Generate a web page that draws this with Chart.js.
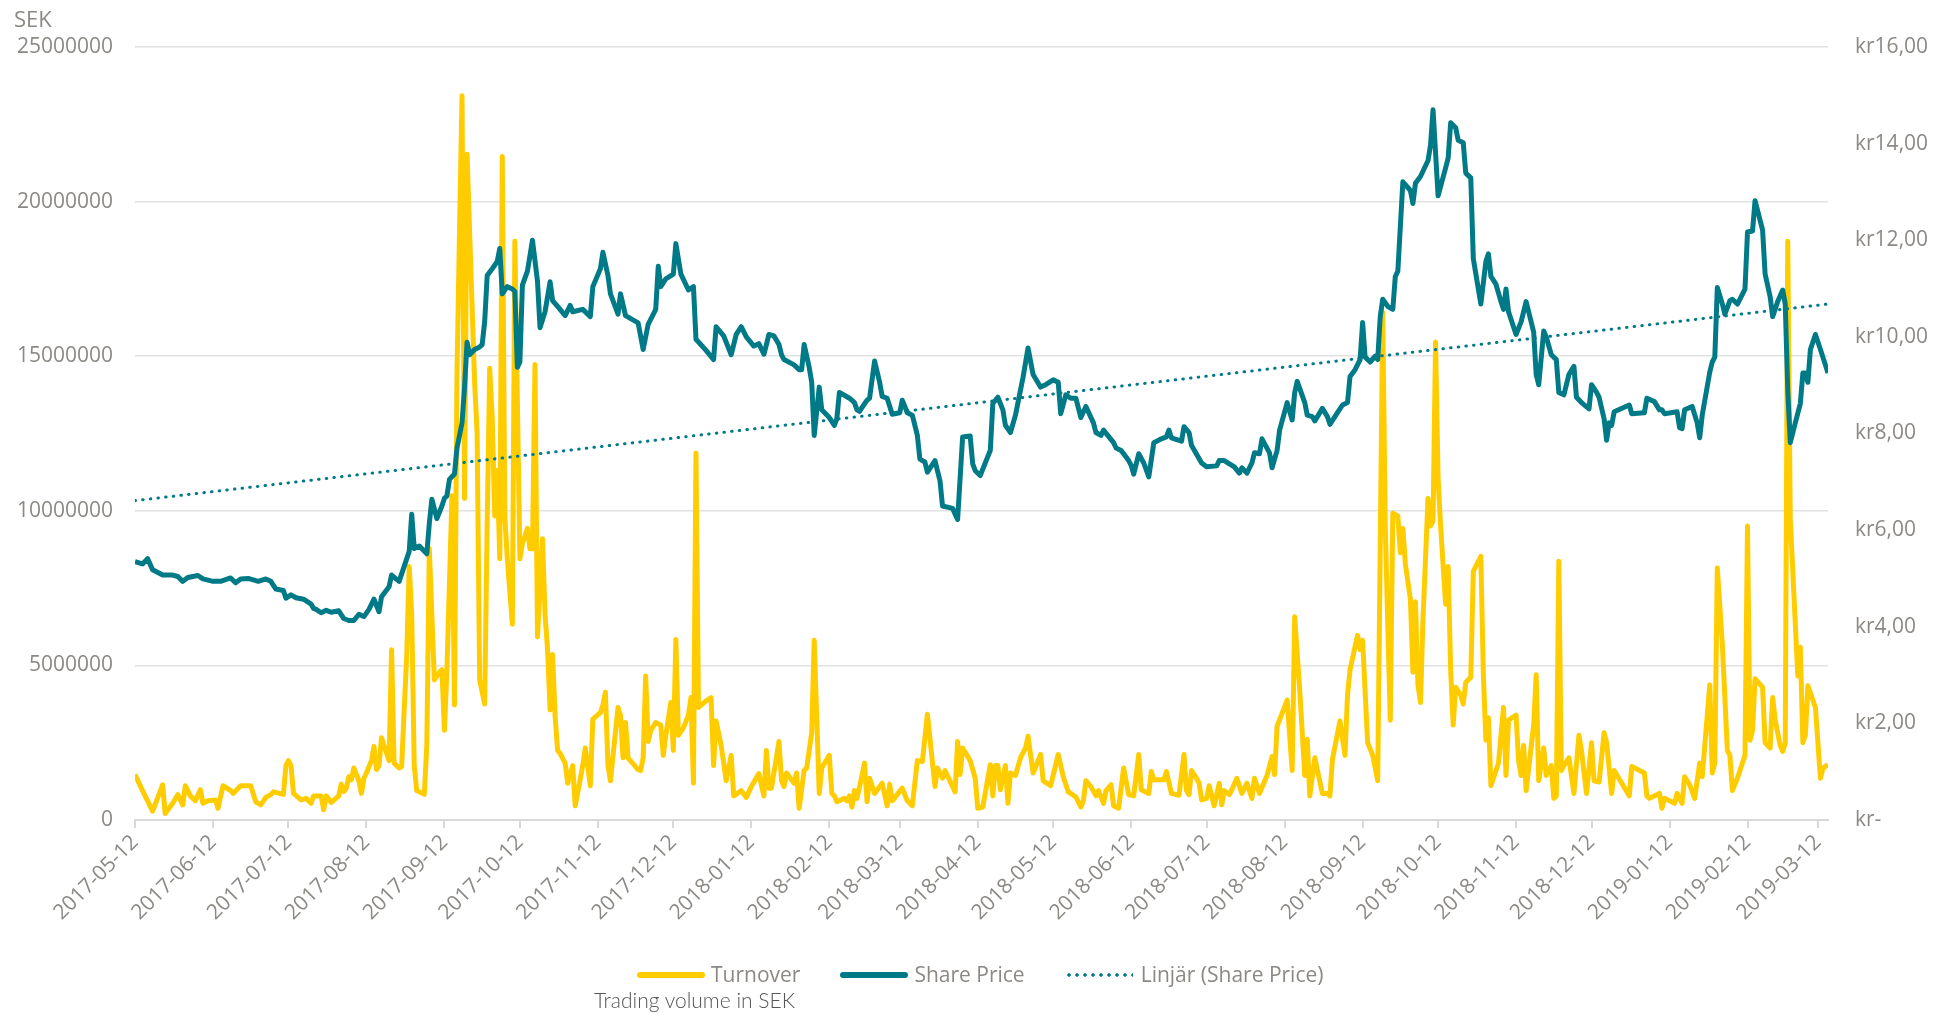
<!DOCTYPE html>
<html>
<head>
<meta charset="utf-8">
<title>Turnover and Share Price</title>
<script src="https://cdn.jsdelivr.net/npm/chart.js@4.4.1/dist/chart.umd.min.js"></script>
<style>
  html, body { margin: 0; padding: 0; background: #fff; }
  #wrap { position: relative; width: 1939px; height: 1013px; }
  #unit { position: absolute; left: 14px; top: 3px; font: 22px 'Open Sans', sans-serif; color: #8c8985; }
  #legend { position: absolute; left: 637px; top: 960px; display: flex; align-items: center;
            font: 21px 'Open Sans', sans-serif; line-height: 29px; color: #8c8985; }
  .item { display: flex; align-items: center; margin-right: 40px; }
  .swatch { width: 68px; height: 6px; border-radius: 3px; margin-right: 6px; }
  .dots { width: 68px; height: 4px; margin-right: 8px;
          background-image: radial-gradient(circle, #007a87 1.5px, transparent 1.8px);
          background-size: 8px 4px; }
  #note { position: absolute; left: 594px; top: 987px; font: 300 21px Lato, sans-serif; color: #555; }
</style>
</head>
<body>
<div id="wrap">
  <canvas id="chart" width="1939" height="1013"></canvas>
  <div id="unit">SEK</div>
  <div id="legend">
    <div class="item"><span class="swatch" style="background:#ffcc00"></span>Turnover</div>
    <div class="item"><span class="swatch" style="background:#007a87"></span>Share Price</div>
    <div class="item"><span class="dots"></span>Linjär (Share Price)</div>
  </div>
  <div id="note">Trading volume in SEK</div>
</div>
<script>
// --- Data (x = trading days after startDate) ---
const startDate = '2017-05-12';

const tickDates = ['2017-05-12', '2017-06-12', '2017-07-12', '2017-08-12', '2017-09-12', '2017-10-12',
  '2017-11-12', '2017-12-12', '2018-01-12', '2018-02-12', '2018-03-12', '2018-04-12', '2018-05-12',
  '2018-06-12', '2018-07-12', '2018-08-12', '2018-09-12', '2018-10-12', '2018-11-12', '2018-12-12',
  '2019-01-12', '2019-02-12', '2019-03-12'];

const turnoverTicks = [0, 5000000, 10000000, 15000000, 20000000, 25000000];
const priceTicks = [0, 2, 4, 6, 8, 10, 12, 14, 16];

const turnoverDays = [
  0, 3, 7, 11, 12, 15, 17, 19, 20, 22,
  24, 26, 27, 29, 32, 33, 35, 38, 39, 42,
  46, 48, 50, 52, 54, 55, 59, 60, 61, 62,
  63, 66, 68, 70, 71, 74, 75, 76, 78, 81,
  82, 83, 84, 85, 86, 87, 89, 90, 91, 92,
  94, 95, 96, 97, 98, 99, 101, 102, 103, 105,
  106, 107, 108, 109, 110, 111, 112, 115, 116, 117,
  119, 121, 122, 123, 124, 126, 127, 128, 129, 130,
  131, 132, 134, 135, 136, 137, 139, 140, 141, 142,
  143, 144, 145, 146, 147, 148, 150, 151, 153, 154,
  156, 157, 158, 159, 160, 162, 163, 164, 165, 166,
  167, 168, 169, 171, 172, 174, 175, 178, 179, 181,
  182, 185, 186, 187, 188, 189, 192, 193, 194, 195,
  196, 200, 201, 202, 203, 204, 205, 207, 209, 210,
  211, 213, 214, 215, 216, 218, 220, 221, 222, 223,
  224, 227, 229, 230, 231, 233, 235, 237, 238, 241,
  243, 245, 248, 250, 251, 252, 253, 256, 257, 258,
  259, 262, 263, 264, 266, 267, 269, 270, 272, 273,
  276, 277, 278, 279, 282, 283, 284, 285, 286, 287,
  289, 290, 291, 292, 294, 297, 299, 300, 301, 305,
  307, 309, 311, 313, 314, 315, 318, 319, 321, 322,
  326, 327, 328, 329, 332, 334, 335, 337, 340, 341,
  342, 343, 344, 346, 347, 348, 350, 352, 354, 355,
  357, 360, 361, 364, 367, 369, 371, 374, 376, 377,
  378, 380, 382, 383, 385, 386, 388, 389, 391, 393,
  395, 397, 399, 400, 403, 404, 405, 409, 410, 412,
  415, 417, 418, 419, 420, 422, 423, 424, 426, 427,
  429, 431, 432, 433, 435, 436, 438, 440, 442, 444,
  445, 447, 450, 452, 453, 454, 458, 460, 461, 463,
  465, 466, 467, 469, 472, 474, 475, 476, 479, 481,
  482, 483, 486, 487, 488, 490, 492, 494, 496, 497,
  498, 499, 500, 502, 503, 504, 505, 507, 508, 509,
  510, 511, 512, 514, 515, 516, 517, 518, 519, 521,
  522, 523, 524, 525, 527, 528, 529, 531, 532, 535,
  536, 537, 538, 539, 542, 544, 545, 546, 549, 550,
  551, 552, 553, 556, 557, 558, 560, 561, 563, 564,
  565, 566, 567, 568, 570, 572, 574, 575, 577, 579,
  580, 582, 584, 585, 587, 588, 594, 595, 600, 601,
  602, 606, 607, 608, 612, 613, 615, 616, 618, 620,
  622, 623, 626, 627, 628, 629, 631, 633, 634, 635,
  637, 640, 641, 642, 643, 644, 647, 648, 650, 651,
  652, 654, 655, 656, 657, 658, 661, 662, 663, 664,
  665, 668, 670, 671, 673
];

const turnoverValues = [
  1470000, 950000, 290000, 1140000, 210000, 540000, 820000, 490000, 1110000, 780000,
  620000, 980000, 540000, 620000, 650000, 380000, 1110000, 950000, 860000, 1110000,
  1110000, 590000, 490000, 730000, 820000, 910000, 830000, 1760000, 1920000, 1760000,
  860000, 650000, 700000, 540000, 780000, 780000, 330000, 780000, 570000, 780000,
  1160000, 920000, 1030000, 1400000, 1300000, 1680000, 1270000, 860000, 1350000, 1520000,
  1920000, 2380000, 1630000, 1760000, 2660000, 2410000, 1920000, 5510000, 1840000, 1680000,
  1730000, 3560000, 5270000, 8200000, 6650000, 1760000, 950000, 830000, 2410000, 8770000,
  4530000, 4780000, 4860000, 2900000, 4860000, 10490000, 3720000, 14480000, 19050000, 23420000,
  10400000, 21530000, 16600000, 14160000, 12520000, 4530000, 3750000, 9590000, 14610000, 13010000,
  9830000, 11300000, 8450000, 21460000, 9830000, 8450000, 6330000, 18720000, 8450000, 8940000,
  9430000, 8770000, 8770000, 14730000, 5920000, 9100000, 6650000, 5510000, 3560000, 5350000,
  3350000, 2250000, 2150000, 1840000, 1190000, 1760000, 460000, 1760000, 2330000, 1110000,
  3260000, 3470000, 3720000, 4130000, 1760000, 1270000, 3640000, 3390000, 2010000, 3150000,
  2010000, 1630000, 1600000, 2010000, 4660000, 2540000, 2900000, 3150000, 3070000, 2090000,
  2740000, 3800000, 2250000, 5840000, 2740000, 2980000, 3390000, 3960000, 1190000, 11870000,
  3640000, 3850000, 3960000, 1760000, 3200000, 2410000, 1270000, 2090000, 780000, 950000,
  730000, 1080000, 1500000, 780000, 2250000, 1030000, 1030000, 2540000, 1270000, 1080000,
  1520000, 1190000, 1520000, 380000, 1600000, 1680000, 2820000, 5810000, 860000, 1680000,
  2090000, 860000, 780000, 590000, 700000, 620000, 780000, 420000, 950000, 700000,
  1440000, 1840000, 590000, 1350000, 860000, 1190000, 460000, 1160000, 620000, 1030000,
  620000, 460000, 1920000, 1890000, 2660000, 3420000, 1080000, 1680000, 1350000, 1600000,
  910000, 2540000, 1470000, 2330000, 1920000, 1350000, 380000, 420000, 1790000, 780000,
  1760000, 1760000, 980000, 1760000, 540000, 1520000, 1440000, 2010000, 2330000, 2710000,
  1520000, 2120000, 1270000, 1110000, 2120000, 1400000, 910000, 750000, 420000, 620000,
  1270000, 1080000, 780000, 950000, 540000, 950000, 1140000, 460000, 380000, 1680000,
  820000, 780000, 2120000, 980000, 860000, 1570000, 1300000, 1300000, 1570000, 860000,
  800000, 2120000, 950000, 820000, 1600000, 1350000, 1190000, 650000, 700000, 1110000,
  460000, 1190000, 490000, 950000, 820000, 980000, 1350000, 860000, 1190000, 700000,
  1350000, 860000, 1440000, 2050000, 1470000, 3030000, 3880000, 1600000, 6570000, 4210000,
  1440000, 2610000, 780000, 2010000, 860000, 860000, 780000, 1960000, 3200000, 2090000,
  4040000, 4860000, 5970000, 5510000, 5810000, 2500000, 2090000, 1270000, 16420000, 9510000,
  6330000, 3230000, 9920000, 9830000, 8640000, 9430000, 8280000, 7140000, 4780000, 7060000,
  4370000, 3800000, 6490000, 10400000, 9510000, 9670000, 15460000, 11060000, 9510000, 6980000,
  8200000, 4860000, 3070000, 4290000, 4040000, 3750000, 4450000, 4620000, 8040000, 8530000,
  4700000, 2580000, 3310000, 1110000, 1840000, 3640000, 1440000, 3230000, 3390000, 1920000,
  1440000, 2410000, 950000, 3070000, 4700000, 1270000, 2330000, 1440000, 1760000, 700000,
  780000, 8370000, 1600000, 1760000, 2010000, 860000, 2740000, 2250000, 860000, 2500000,
  1270000, 1230000, 2820000, 2500000, 860000, 1600000, 780000, 1730000, 1520000, 780000,
  700000, 860000, 380000, 700000, 540000, 860000, 540000, 1400000, 1140000, 700000,
  1840000, 1400000, 4370000, 1520000, 1840000, 8150000, 5680000, 2250000, 2090000, 950000,
  1350000, 2090000, 9510000, 2580000, 2900000, 4570000, 4290000, 2500000, 2330000, 3960000,
  3230000, 2410000, 2220000, 2500000, 18720000, 9750000, 4660000, 5590000, 2500000, 2740000,
  4340000, 3640000, 1350000, 1680000, 1790000
];

const priceDays = [
  0, 3, 5, 7, 11, 15, 17, 19, 21, 25,
  27, 31, 34, 38, 40, 42, 45, 49, 52, 54,
  56, 59, 60, 62, 64, 67, 70, 71, 72, 74,
  76, 78, 81, 83, 85, 87, 89, 91, 93, 95,
  97, 98, 101, 102, 105, 107, 109, 110, 111, 113,
  116, 117, 118, 120, 122, 123, 124, 125, 127, 128,
  130, 131, 132, 133, 135, 137, 138, 139, 140, 142,
  144, 145, 146, 148, 150, 151, 152, 153, 154, 156,
  158, 160, 161, 163, 165, 166, 168, 171, 173, 174,
  178, 181, 182, 185, 186, 188, 189, 192, 193, 195,
  200, 202, 204, 207, 208, 209, 211, 214, 215, 217,
  220, 222, 223, 227, 230, 231, 234, 237, 238, 239,
  241, 243, 246, 248, 250, 251, 252, 254, 256, 257,
  258, 262, 264, 265, 266, 268, 269, 270, 272, 273,
  276, 278, 279, 280, 284, 286, 287, 288, 291, 292,
  294, 296, 297, 299, 301, 304, 305, 307, 309, 311,
  312, 314, 315, 318, 320, 321, 325, 327, 329, 332,
  333, 334, 336, 340, 341, 343, 345, 346, 348, 350,
  353, 355, 357, 360, 362, 365, 367, 368, 370, 372,
  374, 376, 378, 381, 382, 384, 385, 389, 390, 392,
  395, 396, 397, 399, 401, 403, 405, 408, 410, 411,
  412, 415, 416, 417, 419, 420, 424, 426, 430, 431,
  433, 437, 439, 440, 442, 444, 445, 447, 448, 451,
  452, 454, 455, 458, 460, 461, 462, 465, 466, 468,
  469, 472, 474, 475, 478, 480, 482, 483, 485, 487,
  488, 489, 491, 493, 494, 495, 496, 498, 500, 501,
  502, 504, 507, 508, 509, 511, 514, 515, 516, 518,
  521, 522, 523, 525, 526, 528, 529, 531, 532, 535,
  537, 538, 539, 541, 543, 544, 545, 546, 549, 551,
  553, 554, 556, 557, 558, 560, 561, 563, 565, 566,
  568, 570, 572, 573, 575, 578, 579, 581, 582, 584,
  585, 586, 587, 588, 594, 595, 600, 601, 604, 606,
  607, 608, 613, 614, 615, 616, 619, 621, 622, 623,
  626, 627, 628, 629, 631, 632, 634, 635, 637, 640,
  641, 643, 644, 647, 648, 650, 651, 653, 655, 656,
  657, 658, 660, 662, 663, 664, 665, 666, 668, 670,
  673
];

const priceValues = [
  5.35, 5.30, 5.41, 5.18, 5.07, 5.07, 5.04, 4.94, 5.02, 5.06,
  4.99, 4.94, 4.94, 5.01, 4.91, 4.99, 5.00, 4.94, 4.99, 4.94,
  4.78, 4.75, 4.59, 4.66, 4.60, 4.57, 4.47, 4.38, 4.36, 4.29,
  4.34, 4.30, 4.33, 4.17, 4.13, 4.13, 4.26, 4.21, 4.36, 4.57,
  4.31, 4.62, 4.83, 5.07, 4.94, 5.25, 5.56, 6.33, 5.62, 5.67,
  5.51, 6.14, 6.64, 6.24, 6.50, 6.66, 6.71, 7.05, 7.16, 7.70,
  8.22, 8.96, 9.89, 9.63, 9.74, 9.79, 9.84, 10.31, 11.27, 11.41,
  11.56, 11.83, 10.89, 11.04, 10.99, 10.94, 9.37, 9.48, 11.07, 11.36,
  12.00, 11.15, 10.19, 10.52, 11.14, 10.75, 10.63, 10.44, 10.65, 10.52,
  10.57, 10.42, 11.04, 11.41, 11.75, 11.27, 10.89, 10.47, 10.89, 10.44,
  10.29, 9.74, 10.26, 10.57, 11.46, 11.04, 11.20, 11.30, 11.93, 11.30,
  10.97, 11.04, 9.95, 9.72, 9.53, 10.21, 10.02, 9.63, 9.84, 10.05,
  10.21, 10.00, 9.81, 9.86, 9.64, 9.84, 10.05, 10.02, 9.84, 9.63,
  9.53, 9.42, 9.32, 9.32, 9.84, 9.37, 9.06, 7.96, 8.96, 8.49,
  8.33, 8.17, 8.31, 8.85, 8.73, 8.64, 8.49, 8.46, 8.69, 8.73,
  9.50, 9.06, 8.77, 8.73, 8.40, 8.43, 8.69, 8.43, 8.38, 7.96,
  7.47, 7.41, 7.20, 7.44, 7.02, 6.50, 6.45, 6.22, 7.93, 7.95,
  7.37, 7.23, 7.13, 7.65, 8.62, 8.75, 8.49, 8.17, 8.02, 8.38,
  9.16, 9.77, 9.22, 8.96, 9.01, 9.11, 9.06, 8.41, 8.80, 8.73,
  8.73, 8.33, 8.56, 8.22, 8.02, 7.96, 8.07, 7.81, 7.70, 7.65,
  7.44, 7.34, 7.16, 7.58, 7.39, 7.10, 7.81, 7.89, 7.93, 8.07,
  7.91, 7.86, 7.84, 8.14, 8.02, 7.75, 7.39, 7.31, 7.33, 7.44,
  7.44, 7.31, 7.18, 7.29, 7.18, 7.39, 7.60, 7.58, 7.89, 7.60,
  7.29, 7.65, 8.07, 8.64, 8.28, 8.85, 9.08, 8.64, 8.38, 8.35,
  8.26, 8.52, 8.35, 8.19, 8.43, 8.59, 8.64, 9.18, 9.32, 9.53,
  10.30, 9.58, 9.48, 9.60, 9.53, 10.42, 10.78, 10.63, 10.57, 11.25,
  11.36, 13.21, 13.03, 12.76, 13.18, 13.32, 13.65, 13.97, 14.70, 12.92,
  13.50, 13.70, 14.43, 14.33, 14.07, 14.02, 13.39, 13.29, 11.62, 10.68,
  11.56, 11.72, 11.25, 11.09, 10.73, 10.57, 10.99, 10.52, 10.05, 10.31,
  10.73, 10.52, 10.10, 9.22, 9.01, 10.12, 10.00, 9.63, 9.53, 8.85,
  8.80, 9.22, 9.39, 8.75, 8.64, 8.51, 9.01, 8.85, 8.75, 8.30,
  7.86, 8.22, 8.17, 8.45, 8.59, 8.41, 8.43, 8.73, 8.66, 8.49,
  8.49, 8.41, 8.45, 8.12, 8.10, 8.49, 8.56, 8.22, 7.91, 8.38,
  9.27, 9.48, 9.58, 11.02, 10.68, 10.47, 10.75, 10.78, 10.68, 10.99,
  12.17, 12.19, 12.82, 12.21, 11.30, 10.83, 10.42, 10.73, 10.97, 10.68,
  8.90, 7.81, 8.22, 8.62, 9.25, 9.25, 9.06, 9.74, 10.05, 9.74,
  9.25
];

// Excel linear trendline of the share price, read at both ends
const trendDays = [0, 673];
const trendValues = [6.61, 10.68];

// --- Helpers ---
const teal = '#007a87';
const yellow = '#ffcc00';
const grey = '#8c8985';
const font = { family: "'Open Sans', sans-serif", size: 21 };

function dayOf(date) {
    return Math.round((Date.parse(date) - Date.parse(startDate)) / 86400000);
}

function points(xs, ys) {
    return xs.map((x, i) => ({ x: x, y: ys[i] }));
}

function krLabel(v) {
    return v === 0 ? 'kr-' : 'kr' + v.toFixed(2).replace('.', ',');
}

const tickDays = tickDates.map(dayOf);

// --- Chart ---
const ctx = document.getElementById('chart').getContext('2d');
new Chart(ctx, {
    type: 'line',
    data: {
        datasets: [
            {
                label: 'Share Price',
                data: points(priceDays, priceValues),
                yAxisID: 'yPrice',
                borderColor: teal,
                borderWidth: 5,
                borderJoinStyle: 'round',
                pointRadius: 0,
                tension: 0,
                order: 0
            },
            {
                label: 'Linjär (Share Price)',
                data: points(trendDays, trendValues),
                yAxisID: 'yPrice',
                borderColor: teal,
                borderWidth: 3,
                borderDash: [0.5, 7.2],
                borderCapStyle: 'round',
                pointRadius: 0,
                order: 1
            },
            {
                label: 'Turnover',
                data: points(turnoverDays, turnoverValues),
                yAxisID: 'y',
                borderColor: yellow,
                borderWidth: 5,
                borderJoinStyle: 'round',
                pointRadius: 0,
                tension: 0,
                order: 2
            }
        ]
    },
    options: {
        responsive: false,
        animation: false,
        layout: { padding: { top: 47, right: 0, bottom: 0, left: 0 } },
        plugins: { legend: { display: false }, tooltip: { enabled: false } },
        scales: {
            x: {
                type: 'linear',
                min: 0,
                max: 673,
                afterBuildTicks: (axis) => { axis.ticks = tickDays.map(v => ({ value: v })); },
                afterFit: (axis) => { axis.height = 193; },
                grid: { drawOnChartArea: false, drawTicks: true, tickLength: 8, color: '#d9d9d9', lineWidth: 2 },
                border: { display: true, color: '#d9d9d9', width: 2 },
                ticks: {
                    autoSkip: false,
                    minRotation: 45,
                    maxRotation: 45,
                    padding: 2,
                    color: grey,
                    font: { family: font.family, size: 21 },
                    callback: (v, i) => tickDates[i]
                }
            },
            y: {
                position: 'left',
                min: 0,
                max: 25000000,
                afterBuildTicks: (axis) => { axis.ticks = turnoverTicks.map(v => ({ value: v })); },
                afterFit: (axis) => { axis.width = 135; },
                grid: { color: '#e2e2e2', lineWidth: 1.5, drawTicks: false },
                border: { display: false },
                ticks: { padding: 22, color: grey, font: font, callback: (v) => String(v) }
            },
            yPrice: {
                position: 'right',
                min: 0,
                max: 16,
                afterBuildTicks: (axis) => { axis.ticks = priceTicks.map(v => ({ value: v })); },
                afterFit: (axis) => { axis.width = 111; },
                grid: { drawOnChartArea: false, drawTicks: false },
                border: { display: false },
                ticks: { padding: 27, color: grey, font: font, callback: krLabel }
            }
        }
    }
});
</script>
</body>
</html>
